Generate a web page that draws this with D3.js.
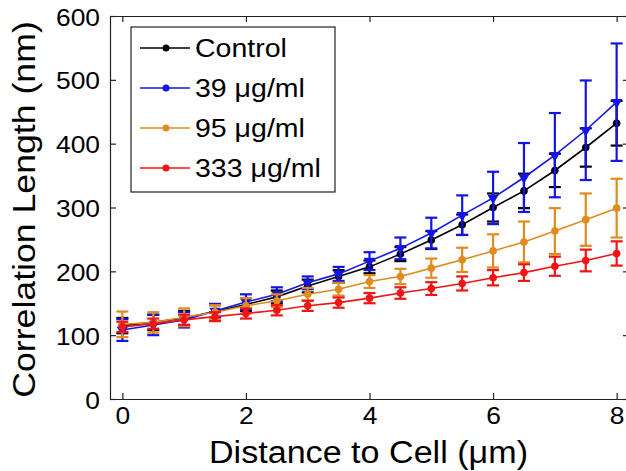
<!DOCTYPE html>
<html>
<head>
<meta charset="utf-8">
<script src="https://cdn.jsdelivr.net/npm/d3@7"></script>
<style>
  body { margin: 0; background: #fff; }
  text { font-family: "Liberation Sans", Arial, sans-serif; fill: #000; }
</style>
</head>
<body>
<div class="canvas"></div>
<script>
// data
const distance = [0, 0.5, 1, 1.5, 2, 2.5, 3, 3.5, 4, 4.5, 5, 5.5, 6, 6.5, 7, 7.5, 8];

const control    = [115, 120, 127, 137, 148, 160, 177, 192, 207, 227, 249, 273, 300, 326, 358, 394, 432];
const controlErr = [12, 12, 11, 10, 10, 10, 10, 10, 10, 11, 14, 16, 22, 27, 26, 30, 35];

const c39    = [108, 116, 124, 138, 152, 164, 182, 196, 216, 236, 260, 288, 315, 347, 382, 421, 465];
const c39Err = [17, 16, 12, 11, 12, 11, 10, 11, 14, 17, 24, 31, 41, 54, 66, 78, 92];

const c95    = [117, 120, 128, 136, 146, 154, 164, 172, 184, 192, 205, 218, 232, 246, 263, 281, 299];
const c95Err = [20, 16, 14, 11, 12, 10, 10, 10, 10, 12, 15, 19, 26, 32, 36, 41, 46];

const c333    = [113, 118, 124, 129, 134, 139, 146, 151, 158, 166, 173, 181, 190, 198, 208, 217, 228];
const c333Err = [8, 8, 8, 7, 8, 8, 8, 8, 8, 9, 10, 11, 12, 13, 15, 17, 19];

const seriesNames = ['Control', '39 \u03bcg/ml', '95 \u03bcg/ml', '333 \u03bcg/ml'];
const xTicks = [0, 2, 4, 6, 8];
const yTicks = [0, 100, 200, 300, 400, 500, 600];

const series = [
    { name: seriesNames[0], values: control, err: controlErr, color: '#000000', symbol: d3.symbolCircle },
    { name: seriesNames[1], values: c39, err: c39Err, color: '#1414e6', symbol: d3.symbolTriangle, flip: true },
    { name: seriesNames[2], values: c95, err: c95Err, color: '#e08b1f', symbol: d3.symbolCircle },
    { name: seriesNames[3], values: c333, err: c333Err, color: '#f01414', symbol: d3.symbolCircle }
];

const svg = d3.select('.canvas')
    .append('svg')
    .attr('width', 626)
    .attr('height', 471);

// plot box
const box = { left: 110, right: 629, top: 16, bottom: 399 };

const x = d3.scaleLinear().domain([-0.2, 8.2]).range([box.left, box.right]);
const y = d3.scaleLinear().domain([0, 600]).range([box.bottom, box.top]);

// stretch text a little, the original font is wider than Arial
function stretch(sel, k) {
    sel.each(function () {
        const w = this.getComputedTextLength();
        d3.select(this).attr('textLength', w * k).attr('lengthAdjust', 'spacingAndGlyphs');
    });
}

// axes with inward ticks
const xAxis = svg.append('g')
    .attr('transform', `translate(0, ${box.bottom})`)
    .call(d3.axisBottom(x).tickValues(xTicks).tickSizeInner(-6).tickSizeOuter(0).tickPadding(8));

const yAxis = svg.append('g')
    .attr('transform', `translate(${box.left}, 0)`)
    .call(d3.axisLeft(y).tickValues(yTicks).tickSizeInner(-6).tickSizeOuter(0).tickPadding(10));

svg.append('g')
    .attr('transform', `translate(0, ${box.top})`)
    .call(d3.axisTop(x).tickValues(xTicks).tickSizeInner(-6).tickSizeOuter(0).tickFormat(''));

svg.append('g')
    .attr('transform', `translate(${box.right}, 0)`)
    .call(d3.axisRight(y).tickValues(yTicks).tickSizeInner(-6).tickSizeOuter(0).tickFormat(''));

svg.selectAll('.domain, .tick line').attr('stroke', '#222').attr('stroke-width', 1.2);
svg.selectAll('.tick text').attr('font-size', 24).style('font-family', '"Liberation Sans", Arial, sans-serif');
yAxis.selectAll('.tick text').attr('dy', '0.38em');
stretch(svg.selectAll('.tick text'), 1.1);

// axis titles
const xTitle = svg.append('text')
    .attr('x', (box.left + box.right) / 2 - 1)
    .attr('y', 463)
    .attr('text-anchor', 'middle')
    .attr('font-size', 31)
    .text('Distance to Cell (\u03bcm)');
stretch(xTitle, 1.1);

const yTitle = svg.append('text')
    .attr('transform', `translate(35, ${(box.top + box.bottom) / 2 + 2}) rotate(-90)`)
    .attr('text-anchor', 'middle')
    .attr('font-size', 31)
    .text('Correlation Length (nm)');
stretch(yTitle, 1.15);

const line = d3.line()
    .x((d, i) => x(distance[i]))
    .y(d => y(d));

series.forEach(s => {
    const g = svg.append('g');

    // error bars
    const bars = g.selectAll('g.bar')
        .data(s.values)
        .enter()
        .append('g')
        .attr('stroke', s.color)
        .attr('stroke-width', 2.2);

    bars.append('line')
        .attr('x1', (d, i) => x(distance[i]))
        .attr('x2', (d, i) => x(distance[i]))
        .attr('y1', (d, i) => y(d - s.err[i]))
        .attr('y2', (d, i) => y(d + s.err[i]));

    bars.append('line')
        .attr('x1', (d, i) => x(distance[i]) - 6)
        .attr('x2', (d, i) => x(distance[i]) + 6)
        .attr('y1', (d, i) => y(d + s.err[i]))
        .attr('y2', (d, i) => y(d + s.err[i]));

    bars.append('line')
        .attr('x1', (d, i) => x(distance[i]) - 6)
        .attr('x2', (d, i) => x(distance[i]) + 6)
        .attr('y1', (d, i) => y(d - s.err[i]))
        .attr('y2', (d, i) => y(d - s.err[i]));

    g.append('path')
        .datum(s.values)
        .attr('fill', 'none')
        .attr('stroke', s.color)
        .attr('stroke-width', 1.6)
        .attr('d', line);

    g.selectAll('path.marker')
        .data(s.values)
        .enter()
        .append('path')
        .attr('class', 'marker')
        .attr('fill', s.color)
        .attr('d', d3.symbol().type(s.symbol).size(s.flip ? 55 : 45))
        .attr('transform', (d, i) => `translate(${x(distance[i])}, ${y(d)})${s.flip ? ' rotate(180)' : ''}`);
});

// legend
const legend = svg.append('g');

legend.append('rect')
    .attr('x', 131)
    .attr('y', 27)
    .attr('width', 204)
    .attr('height', 165)
    .attr('fill', '#fff')
    .attr('stroke', '#222')
    .attr('stroke-width', 1.2);

const items = legend.selectAll('g.item')
    .data(series)
    .enter()
    .append('g')
    .attr('transform', (d, i) => `translate(0, ${48 + i * 40})`);

items.append('line')
    .attr('x1', 140)
    .attr('x2', 190)
    .attr('stroke', d => d.color)
    .attr('stroke-width', 1.6);

items.append('circle')
    .attr('cx', 166)
    .attr('r', 3.5)
    .attr('fill', d => d.color);

const labels = items.append('text')
    .attr('x', 195)
    .attr('y', 9)
    .attr('font-size', 25)
    .text(d => d.name);
stretch(labels, 1.14);
</script>
</body>
</html>
